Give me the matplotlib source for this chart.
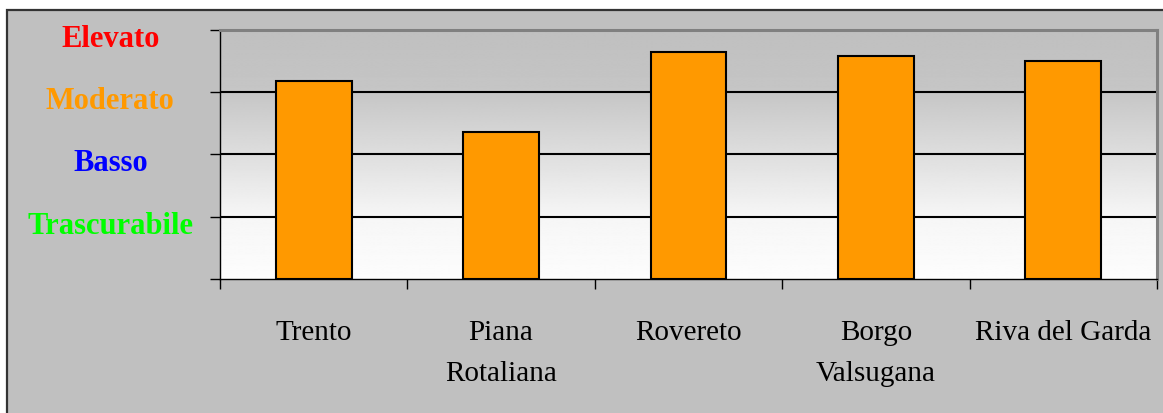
import numpy as np
import matplotlib.pyplot as plt
import matplotlib.transforms as mtransforms
from matplotlib.patches import Rectangle

# data
zone = ["Trento", "Piana\nRotaliana", "Rovereto", "Borgo\nValsugana", "Riva del Garda"]
livello = [3.17, 2.36, 3.65, 3.58, 3.49]
classi = ["", "Trascurabile", "Basso", "Moderato", "Elevato"]
colori_classi = ["black", "#00ff00", "#0000ff", "#ff9900", "#ff0000"]

W, H = 1163, 414
fig = plt.figure(figsize=(W / 100, H / 100), dpi=100)
fig.patch.set_facecolor("white")

# outer grey frame
frame = Rectangle((7 / W, -0.1), 1.2, 1 - 11 / H + 0.1, transform=fig.transFigure,
                  facecolor="#c0c0c0", edgecolor="#333333", linewidth=1.6, zorder=-10)
fig.patches.append(frame)

ax = fig.add_axes([220 / W, (H - 280) / H, (1157 - 220) / W, (280 - 30.7) / H])
ax.set_zorder(1)

# background gradient: grey at the top, white at the bottom
yy = np.linspace(0, 4, 400)
grey = np.interp(yy, [0, 1, 2, 3, 4], [0.99, 0.965, 0.87, 0.775, 0.75])
img = np.repeat(grey[::-1, None], 2, axis=1)
ax.imshow(img, cmap="gray", vmin=0, vmax=1, aspect="auto",
          extent=[-0.5, len(zone) - 0.5, 0, 4], zorder=0, interpolation="bilinear")

for lv in [1, 2, 3]:
    ax.axhline(lv, color="black", linewidth=1.5, zorder=1)

x = np.arange(len(zone))
ax.bar(x, livello, width=0.405, color="#ff9900", edgecolor="black", linewidth=1.5, zorder=2)
ax.set_xlim(-0.5, len(zone) - 0.5)
ax.set_ylim(0, 4)

for side in ["top", "right"]:
    ax.spines[side].set_color("#808080")
    ax.spines[side].set_linewidth(2.2)
for side in ["left", "bottom"]:
    ax.spines[side].set_color("black")
    ax.spines[side].set_linewidth(1.0)

# y axis: risk classes
ax.set_yticks(range(len(classi)))
ax.set_yticklabels(classi, fontfamily="Liberation Serif", fontweight="bold", fontsize=22,
                   ha="center")
ax.tick_params(axis="y", direction="out", length=7, width=1, pad=72)
offset = mtransforms.ScaledTranslation(0, -5 / 100, fig.dpi_scale_trans)
for lab, c in zip(ax.get_yticklabels(), colori_classi):
    lab.set_color(c)
    lab.set_transform(lab.get_transform() + offset)

# x axis: zones, ticks at category boundaries
ax.set_xticks(x)
ax.set_xticklabels(zone, fontfamily="Liberation Serif", fontsize=21, linespacing=1.75)
ax.set_xticks(np.arange(-0.5, len(zone)), minor=True)
ax.tick_params(axis="x", which="major", length=0, pad=28.5)
ax.tick_params(axis="x", which="minor", direction="out", length=7, width=1)

fig.savefig("out.png", dpi=100, facecolor=fig.get_facecolor())
